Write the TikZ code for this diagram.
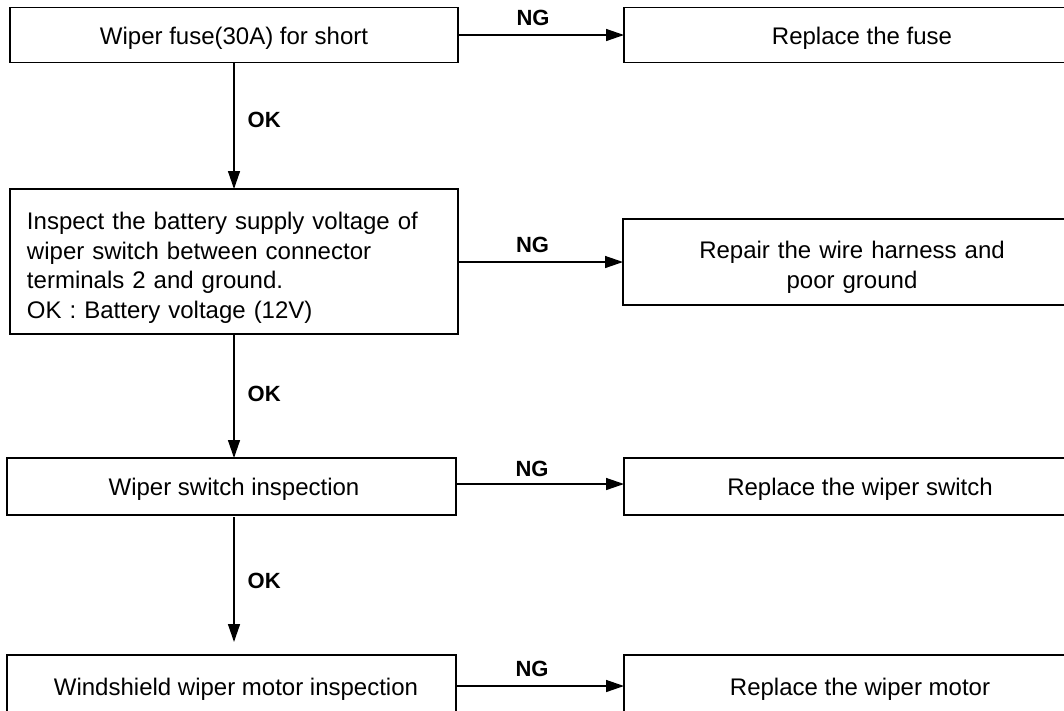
\documentclass[tikz,border=0pt]{standalone}
\usepackage{fontspec}
\setmainfont{Liberation Sans}
\usetikzlibrary{arrows.meta}

\tikzset{
  stepbox/.style={draw, line width=1.6pt, inner sep=0pt, outer sep=0pt,
    font=\fontsize{24}{29.5}\selectfont},
  onebox/.style={stepbox, text height=18pt, text depth=0pt},
  actbox/.style={onebox, minimum width=476pt},
  flow/.style={line width=1.4pt, -{Triangle[length=18pt,width=12pt]}},
  nglabel/.style={anchor=base, inner sep=0pt, yshift=10pt, xshift=-8pt,
    font=\fontsize{22}{26}\selectfont\bfseries},
  oklabel/.style={anchor=west, inner sep=0pt, xshift=13pt,
    font=\fontsize{22}{26}\selectfont\bfseries},
}

\begin{document}
\begin{tikzpicture}[x=1pt, y=-1pt]
  \useasboundingbox (0,0) rectangle (1064,710);
  \clip (0,0) rectangle (1064,710);

  % left column: checks
  \node[onebox, minimum width=448pt, minimum height=55pt] (fuse) at (234,35)
    {Wiper fuse(30A) for short};
  \node[stepbox, minimum width=448pt, minimum height=145pt,
        text width=414pt, align=left] (supply) at (234,261.5)
    {\rule{0pt}{29.5pt}Inspect the battery supply voltage of\\
     wiper switch between connector\\
     terminals 2 and ground.\\
     OK : Battery voltage (12V)};
  \node[onebox, minimum width=449pt, minimum height=57pt] (switch) at (231.5,486.5)
    {\hspace*{5pt}Wiper switch inspection};
  \node[onebox, minimum width=449pt, minimum height=62pt] (motor) at (231.5,686)
    {\hspace*{9pt}Windshield wiper motor inspection};

  % right column: remedies
  \node[actbox, minimum height=55pt] (rfuse) at (862,35) {Replace the fuse};
  \node[stepbox, minimum width=458pt, minimum height=86pt,
        text width=440pt, align=center] (rharness) at (852,262)
    {\rule{0pt}{28pt}Repair the wire harness and\\poor ground};
  \node[actbox, minimum height=57pt] (rswitch) at (862,486.5)
    {\hspace*{-4pt}Replace the wiper switch};
  \node[actbox, minimum height=62pt] (rmotor) at (862,686)
    {\hspace*{-4pt}Replace the wiper motor};

  % NG branches
  \draw[flow] (fuse.east) -- node[nglabel] (ng1) {NG} (rfuse.west);
  \draw[flow] (supply.east |- rharness.west) -- node[nglabel] (ng2) {NG} (rharness.west);
  \draw[flow] ([yshift=2.5pt]switch.east) -- node[nglabel, yshift=-2pt] (ng3) {NG}
    ([yshift=2.5pt]rswitch.west);
  \draw[flow] (motor.east) -- node[nglabel] (ng4) {NG} (rmotor.west);

  % OK path
  \draw[flow] (fuse.south) -- node[oklabel, pos=0.45] (ok1) {OK} (supply.north);
  \draw[flow] (supply.south) -- node[oklabel, pos=0.48] (ok2) {OK}
    (switch.north -| supply.south);
  \draw[flow, shorten <=2pt, shorten >=13pt] (switch.south -| supply.south) --
    node[oklabel, pos=0.47] (ok3) {OK} (motor.north -| supply.south);
\end{tikzpicture}
\end{document}
